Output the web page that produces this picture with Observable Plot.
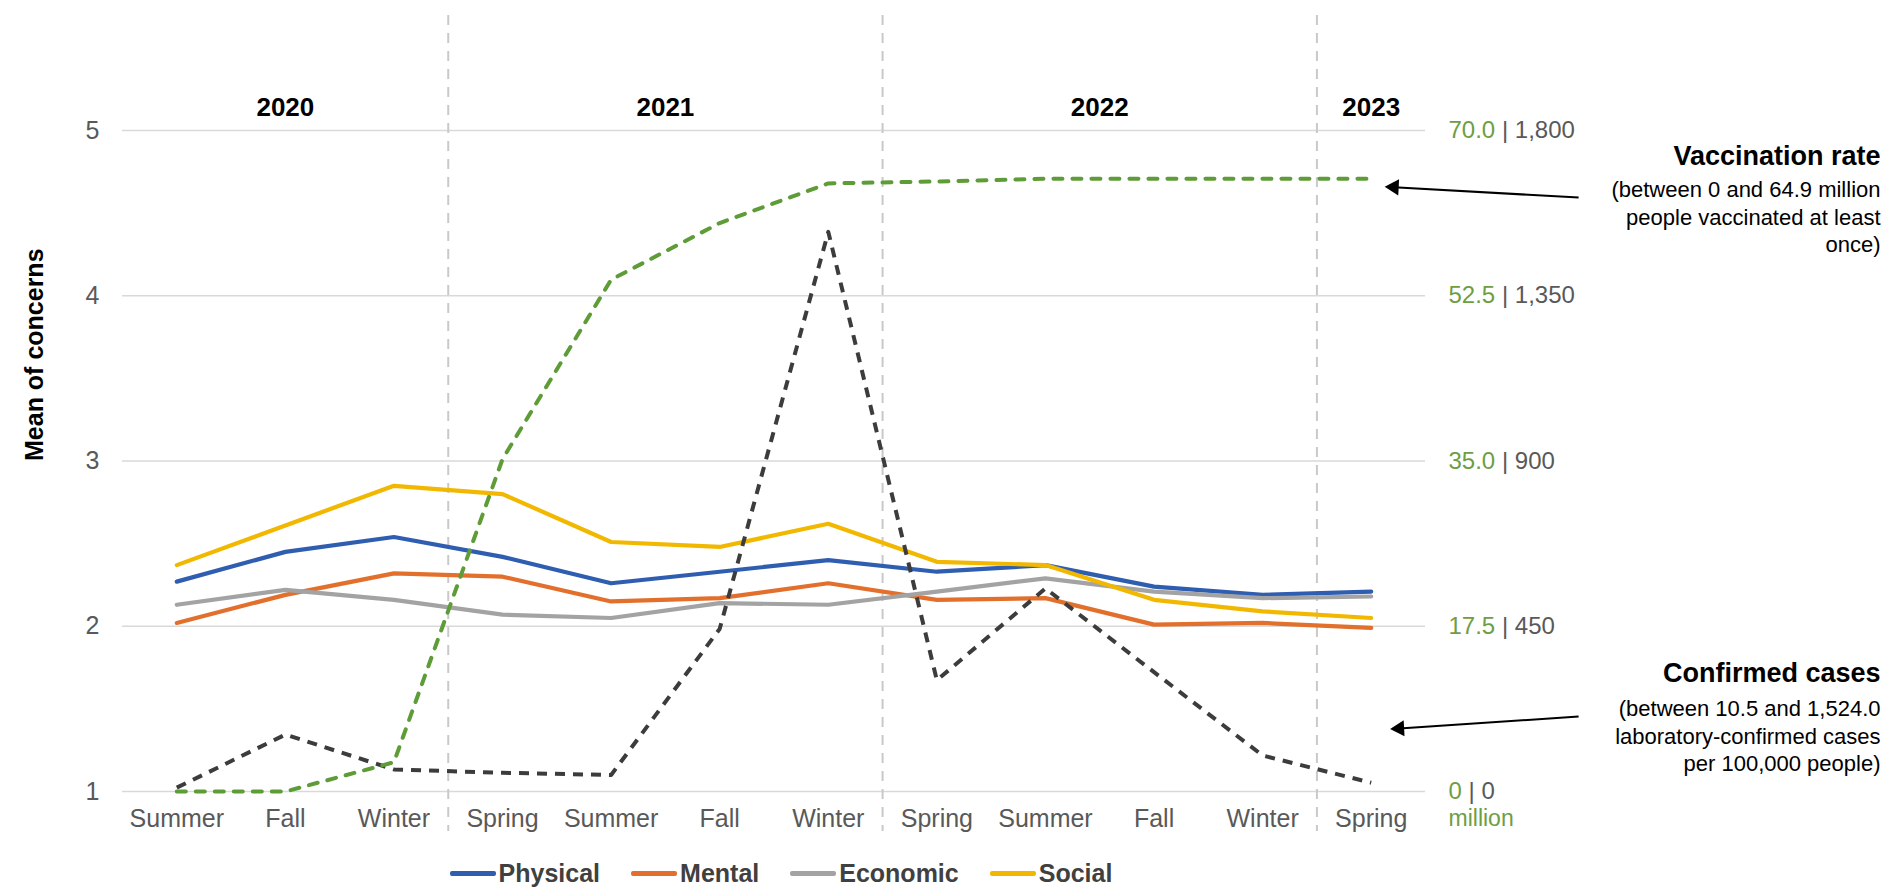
<!DOCTYPE html>
<html>
<head>
<meta charset="utf-8">
<script src="https://cdn.jsdelivr.net/npm/d3@7"></script>
<script src="https://cdn.jsdelivr.net/npm/@observablehq/plot@0.6"></script>
<style>
  html, body { margin: 0; padding: 0; background: #fff; }
  #wrap { width: 1902px; height: 896px; position: relative; overflow: hidden; font-family: "Liberation Sans", Arial, sans-serif; }
  #legend { position: absolute; left: 0; top: 850px; width: 1902px; height: 46px; box-sizing: border-box; padding-right: 340px;
            display: flex; justify-content: center; align-items: center; gap: 31px; }
  .item { display: flex; align-items: center; font-weight: bold; font-size: 25px; color: #404040; }
  .sw { width: 46px; height: 5px; border-radius: 2px; margin-right: 3px; }
</style>
</head>
<body>
<div id="wrap"><div id="chart"></div><div id="legend"></div></div>
<script>
// ---- data ----
const seasons = ["Summer","Fall","Winter","Spring","Summer","Fall","Winter","Spring","Summer","Fall","Winter","Spring"];
const yearLabels = ["2020","2021","2022","2023"];
const yearFirst = [0, 3, 7, 11];
const yearLast  = [2, 6, 10, 11];
const dividers = [2.5, 6.5, 10.5];

const physical = [2.27, 2.45, 2.54, 2.42, 2.26, 2.33, 2.40, 2.33, 2.37, 2.24, 2.19, 2.21];
const mental   = [2.02, 2.19, 2.32, 2.30, 2.15, 2.17, 2.26, 2.16, 2.17, 2.01, 2.02, 1.99];
const economic = [2.13, 2.22, 2.16, 2.07, 2.05, 2.14, 2.13, 2.21, 2.29, 2.21, 2.17, 2.18];
const social   = [2.37, 2.61, 2.85, 2.80, 2.51, 2.48, 2.62, 2.39, 2.37, 2.16, 2.09, 2.05];

// secondary series (millions vaccinated; confirmed cases per 100,000)
const vaccination = [0, 0, 3.1, 35.2, 54.2, 60.2, 64.4, 64.6, 64.9, 64.9, 64.9, 64.9];
const cases       = [10.5, 155, 60, 51, 45, 443, 1524, 303, 553, 325, 98, 24];

const leftTicks = [1, 2, 3, 4, 5];
const vaccTicks  = ["0", "17.5", "35.0", "52.5", "70.0"];
const casesTicks = ["0", "450", "900", "1,350", "1,800"];
const vaccMax = 70, casesMax = 1800;

const seriesNames  = ["Physical", "Mental", "Economic", "Social"];
const seriesColors = ["#2F5EB0", "#E2702C", "#A3A3A3", "#F2B800"];
const green = "#5E9C38", dark = "#3C3C3C", tickGrey = "#595959", greenText = "#6E9E44";

// ---- build tables ----
const seriesValues = [physical, mental, economic, social];
const idx = d3.range(seasons.length);
const toLeft = (v, max) => 1 + v * 4 / max;   // secondary axis mapped on the 1..5 scale
const vaccRows  = idx.map(i => ({i, y: toLeft(vaccination[i], vaccMax)}));
const casesRows = idx.map(i => ({i, y: toLeft(cases[i], casesMax)}));
const years = yearLabels.map((y, k) => ({year: y, x: (yearFirst[k] + yearLast[k]) / 2}));

// annotation arrows (tail -> head), in chart units
const arrows = [
  {x1: 12.91, y1: 4.594, x2: 11.21, y2: 4.657, rot: -87},
  {x1: 12.91, y1: 1.454, x2: 11.26, y2: 1.381, rot: -93}
];

const font = "'Liberation Sans', Arial, sans-serif";

const marks = [
  Plot.ruleY(leftTicks, {stroke: "#D9D9D9", strokeWidth: 1.5}),
  Plot.ruleX(dividers, {stroke: "#C9C9C9", strokeWidth: 2, strokeDasharray: "10,8", insetTop: -115, insetBottom: -40}),
  Plot.axisY({anchor: "left", ticks: leftTicks, tickFormat: d => String(d), tickSize: 0, tickPadding: 23, fontSize: 25, fill: tickGrey, label: null}),
  Plot.axisX({ticks: idx, tickFormat: i => seasons[i], tickSize: 0, tickPadding: 18, fontSize: 25, fill: tickGrey, label: null}),
  ...seriesValues.map((vals, k) =>
    Plot.line(idx, {x: i => i, y: i => vals[i], stroke: seriesColors[k], strokeWidth: 4.2})
  ),
  Plot.line(casesRows, {x: "i", y: "y", stroke: dark, strokeWidth: 4, strokeDasharray: "10,8", strokeLinecap: "butt"}),
  Plot.line(vaccRows, {x: "i", y: "y", stroke: green, strokeWidth: 4, strokeDasharray: "9,10", strokeLinecap: "round"}),
  Plot.text(years, {x: "x", text: "year", frameAnchor: "top", dy: -33, fontWeight: "bold", fontSize: 26, fill: "#000"}),
  Plot.text(leftTicks, {y: d => d, text: (d, i) => vaccTicks[i] + " | " + casesTicks[i], frameAnchor: "right", dx: 23,
                        textAnchor: "start", fontSize: 24, fill: tickGrey}),
  Plot.text(["million"], {frameAnchor: "bottom-right", dx: 23, dy: 34, textAnchor: "start", fontSize: 23, fill: greenText}),
  Plot.text(["Mean of concerns"], {frameAnchor: "left", dx: -88, rotate: -90, fontWeight: "bold", fontSize: 25, fill: "#000"}),
  // annotations
  Plot.text(["Vaccination rate"], {frameAnchor: "top-right", dx: 455, dy: 15.8, lineAnchor: "top", textAnchor: "end",
                                   fontWeight: "bold", fontSize: 27, fill: "#000"}),
  Plot.text(["(between 0 and 64.9 million\npeople vaccinated at least\nonce)"],
            {frameAnchor: "top-right", dx: 455, dy: 47.4, lineAnchor: "top", textAnchor: "end", fontSize: 22, lineHeight: 1.25, fill: "#000"}),
  Plot.text(["Confirmed cases"], {frameAnchor: "bottom-right", dx: 455, dy: -128.2, lineAnchor: "top", textAnchor: "end",
                                  fontWeight: "bold", fontSize: 27, fill: "#000"}),
  Plot.text(["(between 10.5 and 1,524.0\nlaboratory-confirmed cases\nper 100,000 people)"],
            {frameAnchor: "bottom-right", dx: 455, dy: -94.6, lineAnchor: "top", textAnchor: "end", fontSize: 22, lineHeight: 1.25, fill: "#000"}),
  Plot.link(arrows, {x1: "x1", y1: "y1", x2: "x2", y2: "y2", stroke: "#000", strokeWidth: 2}),
  Plot.dot(arrows, {x: "x2", y: "y2", symbol: "triangle", r: 6, fill: "#000", stroke: "none", rotate: "rot"})
];

const chart = Plot.plot({
  width: 1902, height: 850,
  marginLeft: 122, marginRight: 477, marginTop: 130, marginBottom: 59,
  x: {domain: [-0.5, 11.5], axis: null},
  y: {domain: [1, 5], axis: null},
  style: {fontFamily: font, fontSize: "25px", background: "#fff", overflow: "visible"},
  marks
});

// colour the vaccination half of the right-hand tick labels green
chart.querySelectorAll("text").forEach(t => {
  const s = t.textContent;
  if (!s.includes(" | ")) return;
  const [a, b] = s.split(" | ");
  while (t.firstChild) t.removeChild(t.firstChild);
  const s1 = document.createElementNS("http://www.w3.org/2000/svg", "tspan");
  s1.setAttribute("fill", greenText); s1.textContent = a;
  const s2 = document.createElementNS("http://www.w3.org/2000/svg", "tspan");
  s2.setAttribute("fill", tickGrey); s2.textContent = " | " + b;
  t.appendChild(s1); t.appendChild(s2);
});

document.getElementById("chart").appendChild(chart);

const legend = document.getElementById("legend");
seriesNames.forEach((n, k) => {
  const it = document.createElement("div"); it.className = "item";
  const sw = document.createElement("span"); sw.className = "sw"; sw.style.background = seriesColors[k];
  const tx = document.createElement("span"); tx.textContent = n;
  it.appendChild(sw); it.appendChild(tx); legend.appendChild(it);
});
</script>
</body>
</html>
